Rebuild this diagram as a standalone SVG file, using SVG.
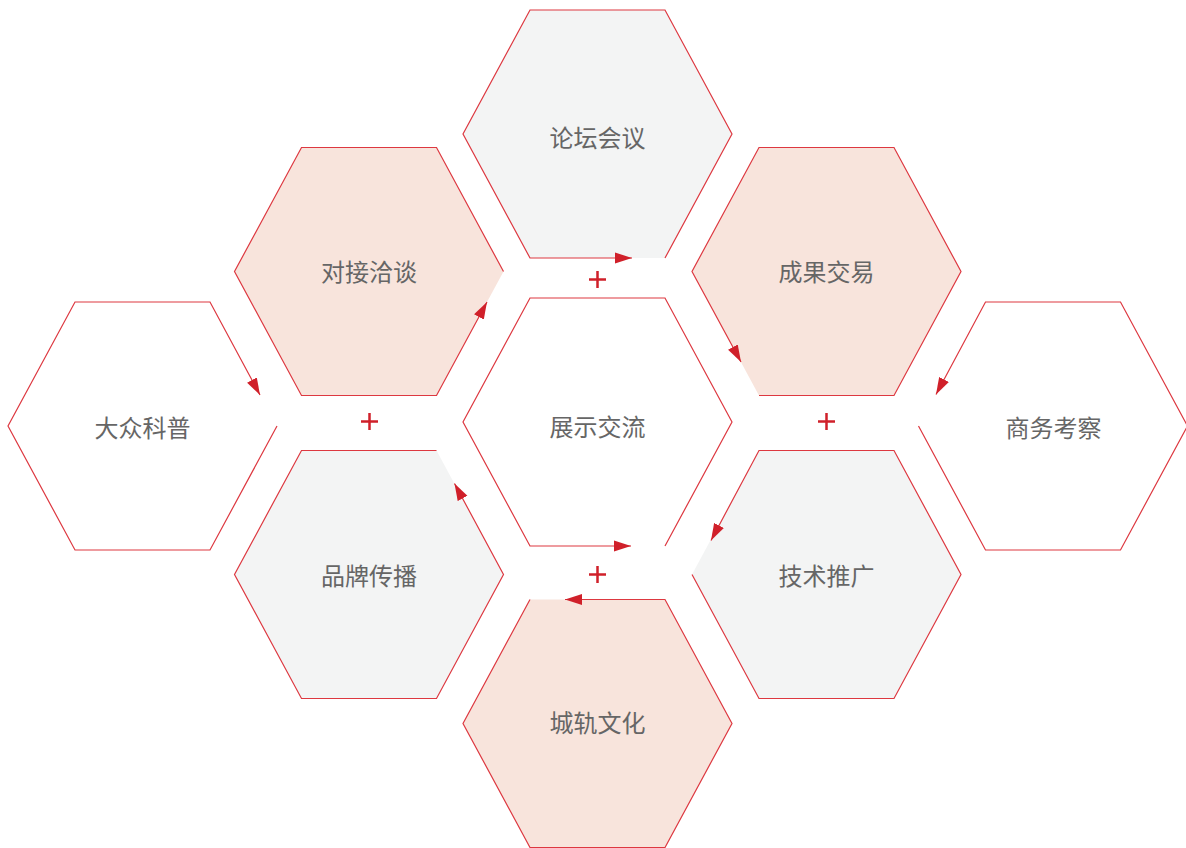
<svg xmlns="http://www.w3.org/2000/svg" width="1186" height="848" viewBox="0 0 1186 848">
  <defs>
    <marker id="arr" markerUnits="userSpaceOnUse" markerWidth="17" markerHeight="12" refX="17" refY="6" orient="auto">
      <path d="M0,0.5 L17,6 L0,11.5 z" fill="#d0202a"/>
    </marker>
    <style>
      .pink { fill: #f8e4dc; }
      .gray { fill: #f3f4f4; }
      .white { fill: #ffffff; }
      .lbl { font-family: "Noto Sans CJK SC", "Noto Sans", sans-serif; font-size: 24px; fill: #666666; text-anchor: middle; }
      .edge { fill: none; stroke: #dd3840; stroke-width: 1.2; stroke-linejoin: miter; marker-end: url(#arr); }
      .plus { stroke: #d0202a; stroke-width: 2.5; fill: none; }
    </style>
  </defs>
  <rect width="1186" height="848" fill="#ffffff"/>

  <g id="node-luntan">
    <polygon class="gray" points="463,134 530,10 665,10 732,134 665,258 530,258"/>
    <text class="lbl" x="597.5" y="146.5">论坛会议</text>
  </g>
  <g id="node-zhanshi">
    <polygon class="white" points="463,422 530,298 665,298 732,422 665,546 530,546"/>
    <text class="lbl" x="597.5" y="436">展示交流</text>
  </g>
  <g id="node-chenggui">
    <polygon class="pink" points="463,723.5 530,599.5 665,599.5 732,723.5 665,847.5 530,847.5"/>
    <text class="lbl" x="597.5" y="731.5">城轨文化</text>
  </g>
  <g id="node-duijie">
    <polygon class="pink" points="234.5,271.5 301.5,147.5 436.5,147.5 503.5,271.5 436.5,395.5 301.5,395.5"/>
    <text class="lbl" x="369" y="281">对接洽谈</text>
  </g>
  <g id="node-pinpai">
    <polygon class="gray" points="234.5,574.5 301.5,450.5 436.5,450.5 503.5,574.5 436.5,698.5 301.5,698.5"/>
    <text class="lbl" x="369" y="584.5">品牌传播</text>
  </g>
  <g id="node-chengguo">
    <polygon class="pink" points="692,271.5 759,147.5 894,147.5 961,271.5 894,395.5 759,395.5"/>
    <text class="lbl" x="826.5" y="281">成果交易</text>
  </g>
  <g id="node-jishu">
    <polygon class="gray" points="692,574.5 759,450.5 894,450.5 961,574.5 894,698.5 759,698.5"/>
    <text class="lbl" x="826.5" y="584.5">技术推广</text>
  </g>
  <g id="node-dazhong">
    <polygon class="white" points="8,426 75,302 210,302 277,426 210,550 75,550"/>
    <text class="lbl" x="142.5" y="436.5">大众科普</text>
  </g>
  <g id="node-shangwu">
    <polygon class="white" points="918.5,426 985.5,302 1120.5,302 1187.5,426 1120.5,550 985.5,550"/>
    <text class="lbl" x="1053.5" y="436.5">商务考察</text>
  </g>

  <g id="connectors">
    <path id="c-luntan" class="edge" d="M665,258 L732,134 L665,10 L530,10 L463,134 L530,258 L632,258"/>
    <path id="c-zhanshi" class="edge" d="M665,546 L732,422 L665,298 L530,298 L463,422 L530,546 L631,546"/>
    <path id="c-chenggui" class="edge" d="M530,599.5 L463,723.5 L530,847.5 L665,847.5 L732,723.5 L665,599.5 L565,599.5"/>
    <path id="c-duijie" class="edge" d="M503.5,271.5 L436.5,147.5 L301.5,147.5 L234.5,271.5 L301.5,395.5 L436.5,395.5 L487,302"/>
    <path id="c-pinpai" class="edge" d="M436.5,450.5 L301.5,450.5 L234.5,574.5 L301.5,698.5 L436.5,698.5 L503.5,574.5 L454.5,483.5"/>
    <path id="c-chengguo" class="edge" d="M759,395.5 L894,395.5 L961,271.5 L894,147.5 L759,147.5 L692,271.5 L741,362"/>
    <path id="c-jishu" class="edge" d="M692,574.5 L759,698.5 L894,698.5 L961,574.5 L894,450.5 L759,450.5 L711,540.5"/>
    <path id="c-dazhong" class="edge" d="M277,426 L210,550 L75,550 L8,426 L75,302 L210,302 L260,395"/>
    <path id="c-shangwu" class="edge" d="M918.5,426 L985.5,550 L1120.5,550 L1187.5,426 L1120.5,302 L985.5,302 L936,394.5"/>
  </g>

  <g id="plus-signs" class="plus">
    <path d="M589,279.5 H606 M597.5,271 V288"/>
    <path d="M361,421.5 H378 M369.5,413 V430"/>
    <path d="M818,421.5 H835 M826.5,413 V430"/>
    <path d="M589,574.5 H606 M597.5,566 V583"/>
  </g>
</svg>
